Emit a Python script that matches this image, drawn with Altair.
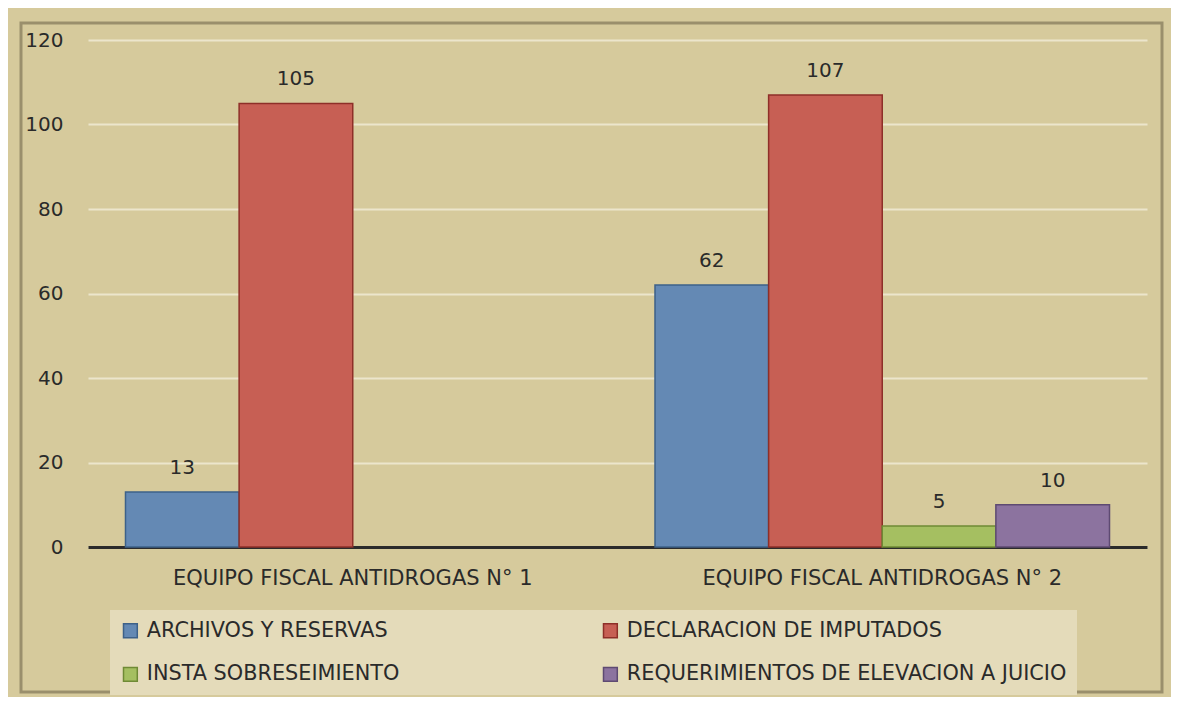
import altair as alt
import pandas as pd

teams = ["EQUIPO FISCAL ANTIDROGAS N° 1", "EQUIPO FISCAL ANTIDROGAS N° 2"]
series = ["ARCHIVOS Y RESERVAS", "DECLARACION DE IMPUTADOS",
          "INSTA SOBRESEIMIENTO", "REQUERIMIENTOS DE ELEVACION A JUICIO"]
team1_values = [13, 105, None, None]
team2_values = [62, 107, 5, 10]
fill_colors = ["#6489b4", "#c75f54", "#a5bf61", "#8c739f"]
stroke_colors = ["#3d6189", "#8e2f28", "#6f8a35", "#5e4a72"]
y_ticks = [0, 20, 40, 60, 80, 100, 120]

rows = []
for t, vals in zip(teams, [team1_values, team2_values]):
    for s, v in zip(series, vals):
        if v is not None:
            rows.append({"team": t, "serie": s, "value": v})
df = pd.DataFrame(rows)

FONT = "DejaVu Sans"
TXT = "#2a2a2a"

legend = alt.Legend(title=None, orient="none", legendX=22, legendY=570,
                    direction="horizontal", columns=2, columnPadding=200, rowPadding=22,
                    padding=10, fillColor="#e4dbba",
                    symbolType="square", symbolSize=190,
                    symbolStrokeWidth=1.5, labelFont=FONT,
                    labelFontSize=20.8, labelColor=TXT, labelOffset=6,
                    labelLimit=600)

x_enc = alt.X("team:N", sort=teams,
              scale=alt.Scale(paddingInner=0, paddingOuter=0),
              axis=alt.Axis(title=None, labelAngle=0, labelFontSize=21, labelFont=FONT,
                            labelColor=TXT, labelPadding=20, ticks=False, labelLimit=800,
                            domainColor="#2b2b2b", domainWidth=3, grid=False))
xoff = alt.XOffset("serie:N", sort=series,
                   scale=alt.Scale(domain=series, paddingInner=0, paddingOuter=0.33))
y_enc = alt.Y("value:Q", scale=alt.Scale(domain=[0, 120], nice=False),
              axis=alt.Axis(title=None, values=y_ticks, labelFontSize=20, labelFont=FONT,
                            labelColor=TXT, labelPadding=25, ticks=False, domain=False,
                            gridColor="#ece5cc", gridWidth=2))

bars = alt.Chart(df).mark_bar(strokeWidth=1.5).encode(
    x=x_enc, xOffset=xoff, y=y_enc,
    fill=alt.Fill("serie:N", sort=series,
                  scale=alt.Scale(domain=series, range=fill_colors), legend=legend),
    stroke=alt.Stroke("serie:N", sort=series,
                      scale=alt.Scale(domain=series, range=stroke_colors), legend=legend),
)

labels = alt.Chart(df).mark_text(baseline="bottom", dy=-14, font=FONT, fontSize=20,
                                 color=TXT).encode(
    x=alt.X("team:N", sort=teams), xOffset=alt.XOffset("serie:N", sort=series),
    y="value:Q", text="value:Q")

frame = alt.Chart(alt.Data(values=[{"a": 1}])).mark_rect(
    fill=None, stroke="#9a8f6c", strokeWidth=3).encode(
    x=alt.value(-67), x2=alt.value(1074), y=alt.value(-17), y2=alt.value(652))

chart = alt.layer(frame, bars, labels).properties(
    width=1059, height=507,
    padding={"left": 80, "top": 32, "right": 24, "bottom": 150},
    autosize=alt.AutoSizeParams(type="none"),
    background="#d6ca9c",
).configure_view(stroke=None).configure_axis(labelFont=FONT)

chart.save("out.html", embed_options={"renderer": "svg", "actions": False})
